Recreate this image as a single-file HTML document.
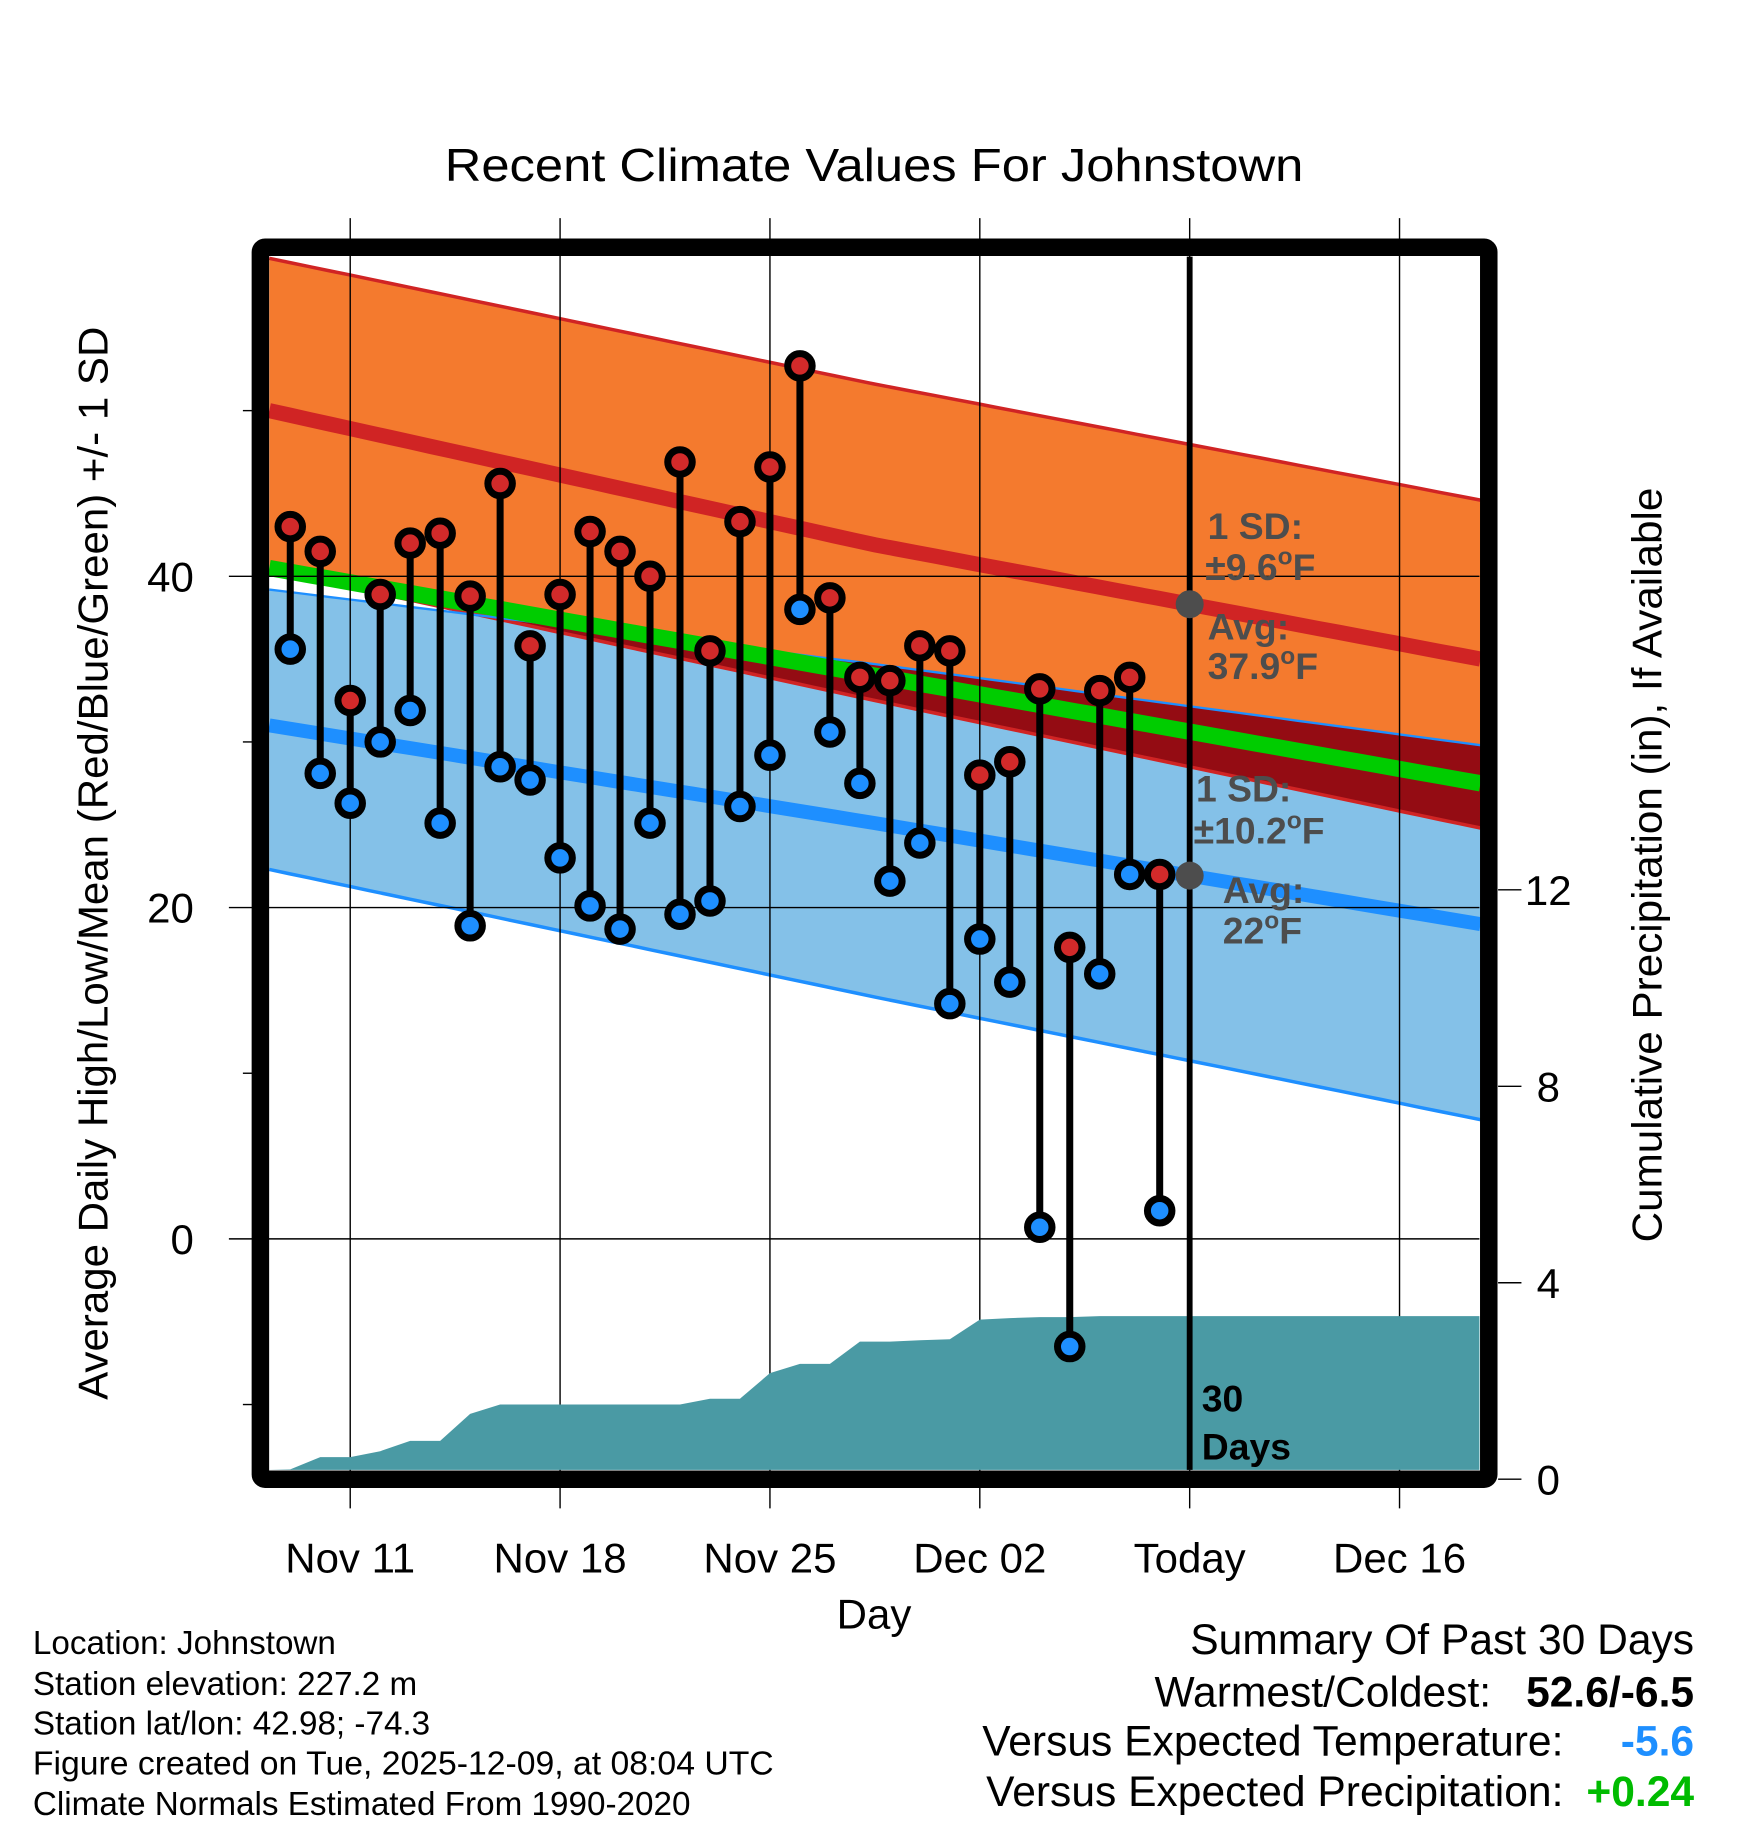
<!DOCTYPE html>
<html><head><meta charset="utf-8"><style>
html,body{margin:0;padding:0;background:#fff}
svg{display:block}
text{font-family:"Liberation Sans",sans-serif}
</style></head><body>
<svg id="chart" width="1748" height="1828" viewBox="0 0 1498 1567" xmlns="http://www.w3.org/2000/svg">
<text x="381" y="155" font-size="40" textLength="736" lengthAdjust="spacingAndGlyphs">Recent Climate Values For Johnstown</text>
<g id="bands"></g>
<g id="grid"></g>
<g id="precip"></g>
<g id="marks"></g>
<g id="annot"></g>
<g id="axes"></g>
<text x="749" y="1396" font-size="36" text-anchor="middle">Day</text>
<text transform="translate(92,1200) rotate(-90)" font-size="36" textLength="920" lengthAdjust="spacingAndGlyphs">Average Daily High/Low/Mean (Red/Blue/Green) +/- 1 SD</text>
<text transform="translate(1424,1065) rotate(-90)" font-size="36" textLength="647" lengthAdjust="spacingAndGlyphs">Cumulative Precipitation (in), If Available</text>
<g font-size="28.5">
<text x="28" y="1418">Location: Johnstown</text>
<text x="28" y="1453">Station elevation: 227.2 m</text>
<text x="28" y="1487">Station lat/lon: 42.98; -74.3</text>
<text x="28" y="1521" textLength="635" lengthAdjust="spacingAndGlyphs">Figure created on Tue, 2025-12-09, at 08:04 UTC</text>
<text x="28" y="1556">Climate Normals Estimated From 1990-2020</text>
</g>
<g font-size="36.5">
<text x="1452" y="1418" text-anchor="end">Summary Of Past 30 Days</text>
<text x="1278" y="1463" text-anchor="end">Warmest/Coldest:</text>
<text x="1452" y="1463" text-anchor="end" font-weight="bold">52.6/-6.5</text>
<text x="1340" y="1505" text-anchor="end">Versus Expected Temperature:</text>
<text x="1452" y="1505" text-anchor="end" font-weight="bold" fill="#1e8fff">-5.6</text>
<text x="1340" y="1548" text-anchor="end">Versus Expected Precipitation:</text>
<text x="1452" y="1548" text-anchor="end" font-weight="bold" fill="#00bb00">+0.24</text>
</g>
</svg>
<script>
const highs=[43.0,41.5,32.5,38.9,42.0,42.6,38.8,45.6,35.8,38.9,42.7,41.5,40.0,46.9,35.5,43.3,46.6,52.7,38.7,33.9,33.7,35.8,35.5,28.0,28.8,33.2,17.6,33.1,33.9,22.0];
const lows=[35.6,28.1,26.3,30.0,31.9,25.1,18.9,28.5,27.7,23.0,20.1,18.7,25.1,19.6,20.4,26.1,29.2,38.0,30.6,27.5,21.6,23.9,14.2,18.1,15.5,0.7,-6.5,16.0,22.0,1.7];
const precip=[0.2,0.45,0.45,0.57,0.78,0.78,1.33,1.52,1.52,1.52,1.52,1.52,1.52,1.52,1.64,1.64,2.16,2.35,2.35,2.8,2.8,2.83,2.85,3.25,3.28,3.3,3.3,3.32,3.32,3.32];
const normDays=[-2.7,17.5,37.7];
const redTop=[59.2,51.6,44.6];
const redMean=[50.0,41.9,35.0];
const redLow=[40.4,32.5,24.8];
const greenMean=[40.5,34.0,27.5];
const blueHigh=[39.2,34.7,29.8];
const blueMean=[31.0,25.1,19.0];
const blueLow=[22.3,14.6,7.2];
const xTickDays=[0,7,14,21,28,35];
const xTickLabels=["Nov 11","Nov 18","Nov 25","Dec 02","Today","Dec 16"];
const yTicks=[0,20,40];
const yMinor=[-10,10,30,50];
const pTicks=[0,4,8,12];
const firstDay=-2;
const NS="http://www.w3.org/2000/svg";
const X=d=>300+d*25.7;
const Y=t=>1062-t*14.2;
const P=v=>1268-v*42.1;
const L=230,R=1268,T=220,B=1260;
function el(tag,attrs,parent){const e=document.createElementNS(NS,tag);for(const k in attrs)e.setAttribute(k,attrs[k]);parent.appendChild(e);return e;}
function interp(arr,d){if(d<=normDays[0])return arr[0];for(let i=0;i<normDays.length-1;i++){if(d<=normDays[i+1]){const f=(d-normDays[i])/(normDays[i+1]-normDays[i]);return arr[i]+f*(arr[i+1]-arr[i]);}}return arr[arr.length-1];}
const samples=[];for(let i=0;i<=60;i++)samples.push(normDays[0]+(normDays[2]-normDays[0])*i/60);
function line(arr){return samples.map(d=>X(d).toFixed(1)+","+Y(interp(arr,d)).toFixed(1)).join(" ");}
function band(top,bot){return samples.map(d=>X(d).toFixed(1)+","+Y(top(d)).toFixed(1)).concat(samples.slice().reverse().map(d=>X(d).toFixed(1)+","+Y(bot(d)).toFixed(1))).join(" ");}
const bands=document.getElementById('bands');
let e;
e=el('polygon',{points:band(d=>interp(redTop,d),d=>interp(redLow,d)),fill:'#f47a2e'},bands);

e=el('polygon',{points:band(d=>interp(blueHigh,d),d=>interp(blueLow,d)),fill:'#84c1e8'},bands);

e=el('polygon',{points:band(d=>interp(blueHigh,d),d=>Math.min(interp(blueHigh,d),interp(redLow,d))),fill:'#940c13'},bands);

const lines=[[redTop,'#d02424',3,'high-sd-upper'],[redLow,'#d02424',3,'high-sd-lower'],[blueHigh,'#1e8fff',2,'low-sd-upper'],[blueLow,'#1e8fff',3,'low-sd-lower'],[redMean,'#d02424',13,'high-normal-line'],[blueMean,'#1e8fff',12,'low-normal-line'],[greenMean,'#00cc00',14,'mean-normal-line']];
lines.forEach(l=>{const p=el('polyline',{points:line(l[0]),fill:'none',stroke:l[1],'stroke-width':l[2]},bands);

});
const grid=document.getElementById('grid');
xTickDays.forEach((d,i)=>{const g=el('line',{x1:X(d),x2:X(d),y1:187,y2:1293,stroke:'#000','stroke-width':1.2},grid);


const t=el('text',{x:X(d),y:1348,'font-size':36,'text-anchor':'middle'},grid);t.textContent=xTickLabels[i];

});
yTicks.forEach(v=>{const g=el('line',{x1:196,x2:R,y1:Y(v),y2:Y(v),stroke:'#000','stroke-width':1.2},grid);


const t=el('text',{x:166,y:Y(v)+13,'font-size':36,'text-anchor':'end'},grid);t.textContent=v;

});
yMinor.forEach(v=>{const g=el('line',{x1:208,x2:216,y1:Y(v),y2:Y(v),stroke:'#000','stroke-width':1.2},grid);

});
const pg=document.getElementById('precip');
let pts=[L+","+B];
precip.forEach((v,i)=>pts.push(X(firstDay+i).toFixed(1)+","+Math.min(B,P(v)).toFixed(1)));
pts.push(R+","+P(precip[precip.length-1]).toFixed(1));pts.push(R+","+B);
e=el('polygon',{points:pts.join(" "),fill:'#4a9aa4'},pg);

const gl=el('line',{x1:X(28),x2:X(28),y1:T,y2:B,stroke:'#000','stroke-width':5},pg);


const marks=document.getElementById('marks');
highs.forEach((h,i)=>{const x=X(firstDay+i);
const s=el('line',{x1:x,x2:x,y1:Y(h),y2:Y(lows[i]),stroke:'#000','stroke-width':6},marks);


const c1=el('circle',{cx:x,cy:Y(h),r:10.5,fill:'#d22a2a',stroke:'#000','stroke-width':6},marks);


const c2=el('circle',{cx:x,cy:Y(lows[i]),r:10.5,fill:'#1e8fff',stroke:'#000','stroke-width':6},marks);

});
const an=document.getElementById('annot');
function txt(x,y,s,name,fill,sz){const t=el('text',{x:x,y:y,'font-size':sz||32,'font-weight':'bold',fill:fill||'#4d4d4d'},an);t.innerHTML=s;

}
let c=el('circle',{cx:X(28),cy:Y(interp(redMean,28)),r:12,fill:'#4d4d4d'},an);

c=el('circle',{cx:X(28),cy:Y(interp(blueMean,28)),r:12,fill:'#4d4d4d'},an);

txt(1035,462,'1 SD:','high-sd-label');
txt(1033,497,'±9.6<tspan font-size="21" dy="-13">o</tspan><tspan dy="13">F</tspan>','high-sd-value');
txt(1035,548,'Avg:','high-avg-label');
txt(1035,582,'37.9<tspan font-size="21" dy="-13">o</tspan><tspan dy="13">F</tspan>','high-avg-value');
txt(1025,687,'1 SD:','low-sd-label');
txt(1023,723,'±10.2<tspan font-size="21" dy="-13">o</tspan><tspan dy="13">F</tspan>','low-sd-value');
txt(1048,774,'Avg:','low-avg-label');
txt(1048,809,'22<tspan font-size="21" dy="-13">o</tspan><tspan dy="13">F</tspan>','low-avg-value');
txt(1030,1210,'30','days-label','#000');
txt(1030,1251,'Days','days-label-2','#000');
const ax=document.getElementById('axes');
e=el('rect',{x:223,y:212,width:1053,height:1056,fill:'none',stroke:'#000','stroke-width':15,rx:4},ax);

pTicks.forEach(v=>{const g=el('line',{x1:1284,x2:1304,y1:P(v),y2:P(v),stroke:'#000','stroke-width':1.2},ax);


const t=el('text',{x:1327,y:P(v)+13,'font-size':36,'text-anchor':'middle'},ax);t.textContent=v;

});
</script>
</body></html>
